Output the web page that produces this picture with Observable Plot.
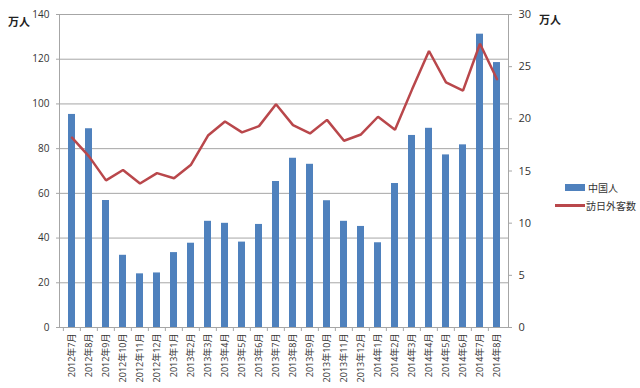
<!DOCTYPE html>
<html><head><meta charset="utf-8">
<script src="https://cdn.jsdelivr.net/npm/d3@7"></script>
<script src="https://cdn.jsdelivr.net/npm/@observablehq/plot@0.6"></script>
<style>
body{margin:0;background:#fff;}
#wrap{position:relative;width:640px;height:388px;font-family:"Open Sans","Noto Sans CJK JP",sans-serif;color:#333;}
.unit{position:absolute;font-size:11px;font-weight:bold;font-family:"Noto Sans CJK JP",sans-serif;color:#222;}
.leg{position:absolute;font-size:10px;font-family:"Noto Sans CJK JP",sans-serif;color:#333;display:flex;align-items:center;}
</style></head><body><div id="wrap"></div>
<script>
const months = ["2012年7月","2012年8月","2012年9月","2012年10月","2012年11月","2012年12月",
"2013年1月","2013年2月","2013年3月","2013年4月","2013年5月","2013年6月","2013年7月","2013年8月",
"2013年9月","2013年10月","2013年11月","2013年12月","2014年1月","2014年2月","2014年3月","2014年4月",
"2014年5月","2014年6月","2014年7月","2014年8月"];
const chinese = [95.3,88.9,56.8,32.3,24.0,24.4,33.5,37.7,47.5,46.6,38.2,46.1,65.3,75.7,73.0,56.7,47.5,45.2,37.9,64.4,85.9,89.1,77.2,81.7,131.2,118.5];
const visitors = [18.2,16.4,14.1,15.1,13.8,14.8,14.3,15.6,18.4,19.75,18.7,19.3,21.4,19.4,18.6,19.9,17.9,18.5,20.2,18.95,22.8,26.5,23.5,22.7,27.2,23.8];
const leftTicks = [0,20,40,60,80,100,120,140];
const rightTicks = [0,5,10,15,20,25,30];
const seriesNames = ["中国人","訪日外客数"];
const unitLabel = "万人";
const colors = ["#4f81bd","#b9474b"];

const k = 140/30;
const data = months.map((m,i)=>({month:m, bar:chinese[i], line:visitors[i]*k}));
const fam = '"Open Sans","Noto Sans CJK JP",sans-serif';
const chart = Plot.plot({
  width:640, height:388, marginLeft:59, marginRight:132, marginTop:14, marginBottom:61,
  style:{fontFamily:fam, fontSize:"10px", color:"#333", background:"white", overflow:"visible"},
  x:{type:"band", domain:months, paddingInner:0.6, paddingOuter:0.3, label:null},
  y:{domain:[0,140], label:null},
  marks:[
    Plot.gridY(leftTicks,{stroke:"#a6a6a6", strokeOpacity:1}),
    Plot.frame({stroke:"#a6a6a6"}),
    Plot.barY(data,{x:"month", y:"bar", fill:colors[0]}),
    Plot.lineY(data,{x:"month", y:"line", stroke:colors[1], strokeWidth:2.5, strokeLinejoin:"miter"}),
    Plot.axisY(leftTicks,{anchor:"left", tickSize:3, tickPadding:7, stroke:"#a6a6a6", fill:"#333", label:null}),
    Plot.axisY(rightTicks.map(v=>v*k),{anchor:"right", tickSize:3, tickPadding:7, stroke:"#a6a6a6", fill:"#333", fontSize:11, tickFormat:d=>String(Math.round(d/k)), label:null}),
    Plot.axisX({tickRotate:-90, tickSize:0, tickPadding:6, fontSize:9, fill:"#333", label:null}),
    Plot.axisX({tickSize:4, tickFormat:()=>"", stroke:"#a6a6a6", dx:-449/52, label:null})
  ]
});
const wrap = document.getElementById("wrap");
wrap.appendChild(chart);
function addDiv(cls, html, left, top){const d=document.createElement("div");d.className=cls;d.innerHTML=html;d.style.left=left+"px";d.style.top=top+"px";wrap.appendChild(d);}
addDiv("unit", unitLabel, 8, 13);
addDiv("unit", unitLabel, 539, 11);
addDiv("leg", `<span style="display:inline-block;width:20px;height:7px;background:${colors[0]};margin-left:10px;margin-right:3px"></span>${seriesNames[0]}`, 555, 180);
addDiv("leg", `<span style="display:inline-block;width:30px;height:2.5px;background:${colors[1]};margin-right:1px"></span>${seriesNames[1]}`, 555, 198);
</script></body></html>
